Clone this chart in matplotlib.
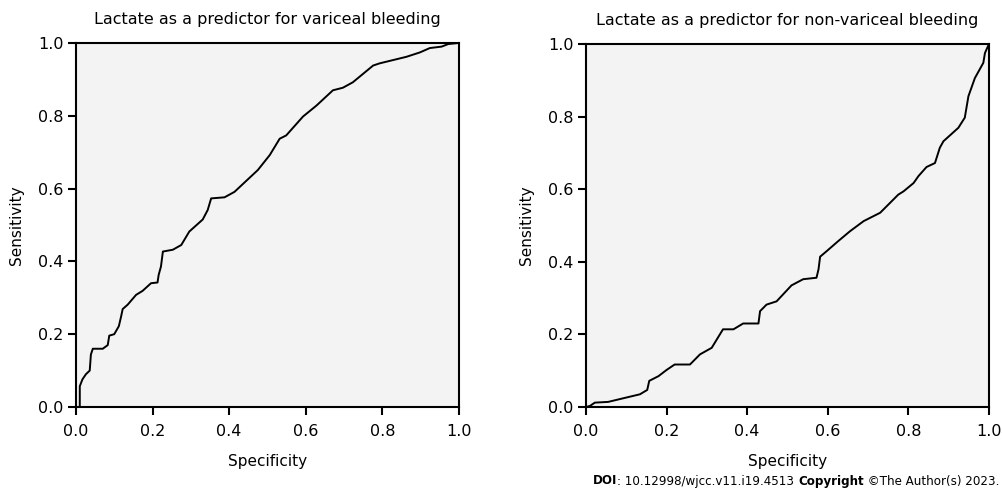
import matplotlib
matplotlib.use('Agg')
import matplotlib.pyplot as plt

# ROC curve (1 - specificity on x as plotted by SPSS)
var_x = [0, 0.01, 0.01, 0.017, 0.026, 0.036, 0.039, 0.044, 0.07, 0.083, 0.087, 0.1,
         0.112, 0.118, 0.122, 0.135, 0.157, 0.174, 0.196, 0.213, 0.216, 0.222, 0.227,
         0.253, 0.275, 0.296, 0.331, 0.344, 0.353, 0.388, 0.414, 0.475, 0.506, 0.532,
         0.549, 0.593, 0.628, 0.671, 0.697, 0.723, 0.776, 0.793, 0.828, 0.863, 0.898,
         0.924, 0.955, 0.972, 1.0]
var_y = [0, 0, 0.057, 0.076, 0.09, 0.10, 0.144, 0.16, 0.16, 0.17, 0.196, 0.20,
         0.222, 0.249, 0.269, 0.281, 0.308, 0.319, 0.340, 0.342, 0.363, 0.386, 0.427,
         0.432, 0.445, 0.482, 0.515, 0.541, 0.573, 0.576, 0.591, 0.651, 0.692, 0.737,
         0.746, 0.798, 0.828, 0.870, 0.877, 0.892, 0.938, 0.944, 0.953, 0.962, 0.974,
         0.986, 0.990, 0.997, 1.0]

nonvar_x = [0, 0.01, 0.022, 0.055, 0.10, 0.134, 0.152, 0.157, 0.18, 0.2, 0.22, 0.258,
            0.283, 0.312, 0.34, 0.366, 0.39, 0.428, 0.432, 0.448, 0.473, 0.51, 0.539,
            0.572, 0.577, 0.581, 0.597, 0.626, 0.655, 0.689, 0.73, 0.775, 0.788, 0.813,
            0.825, 0.845, 0.866, 0.878, 0.887, 0.924, 0.94, 0.949, 0.965, 0.986, 0.99, 1.0]
nonvar_y = [0, 0.003, 0.012, 0.014, 0.026, 0.035, 0.047, 0.072, 0.085, 0.102, 0.117, 0.117,
            0.145, 0.163, 0.214, 0.214, 0.230, 0.230, 0.264, 0.282, 0.291, 0.335, 0.352,
            0.356, 0.379, 0.414, 0.429, 0.457, 0.484, 0.512, 0.535, 0.585, 0.594, 0.617,
            0.636, 0.661, 0.672, 0.714, 0.732, 0.769, 0.797, 0.856, 0.906, 0.948, 0.975, 1.0]

titles = ['Lactate as a predictor for variceal bleeding',
          'Lactate as a predictor for non-variceal bleeding']
ticks = [0.0, 0.2, 0.4, 0.6, 0.8, 1.0]
tick_labels = ['0.0', '0.2', '0.4', '0.6', '0.8', '1.0']

plt.rcParams['font.family'] = ['DejaVu Sans']

fig = plt.figure(figsize=(10.02, 4.95), dpi=100)
ax1 = fig.add_axes([0.0758, 0.1778, 0.3822, 0.7354])
ax2 = fig.add_axes([0.5848, 0.1778, 0.4022, 0.7334])

for ax, xs, ys, title in [(ax1, var_x, var_y, titles[0]), (ax2, nonvar_x, nonvar_y, titles[1])]:
    ax.set_facecolor('#f3f3f3')
    ax.plot(xs, ys, color='black', lw=1.4)
    ax.set_xlim(0, 1)
    ax.set_ylim(0, 1)
    ax.set_xticks(ticks)
    ax.set_xticklabels(tick_labels)
    ax.set_yticks(ticks)
    ax.set_yticklabels(tick_labels)
    ax.tick_params(direction='out', length=6, width=1.5, labelsize=11.5, color='black')
    ax.tick_params(axis='x', pad=6)
    ax.tick_params(axis='y', pad=3)
    for s in ax.spines.values():
        s.set_linewidth(1.5)
    ax.set_xlabel('Specificity', fontsize=11, labelpad=11)
    ax.set_ylabel('Sensitivity', fontsize=11, labelpad=10)
    ax.set_title(title, fontsize=11.5, pad=14)

# footer: DOI / copyright line with bold keywords, fitted to the reference width
pieces = [('DOI', 'bold'), (': 10.12998/wjcc.v11.i19.4513 ', 'normal'),
          ('Copyright', 'bold'), (' \u00a9The Author(s) 2023.', 'normal')]
fig.canvas.draw()
renderer = fig.canvas.get_renderer()
fs = 10
total = 0
for txt, w in pieces:
    t = fig.text(0, 0, txt, fontsize=fs, fontweight=w)
    total += t.get_window_extent(renderer).width
    t.remove()
fs = fs * 406 / total
x = 593 / 1002
for txt, w in pieces:
    t = fig.text(x, 1 - 481 / 495, txt, fontsize=fs, fontweight=w, va='center', ha='left')
    bb = t.get_window_extent(renderer)
    x += bb.width / fig.bbox.width

fig.savefig('out.png', dpi=100)
